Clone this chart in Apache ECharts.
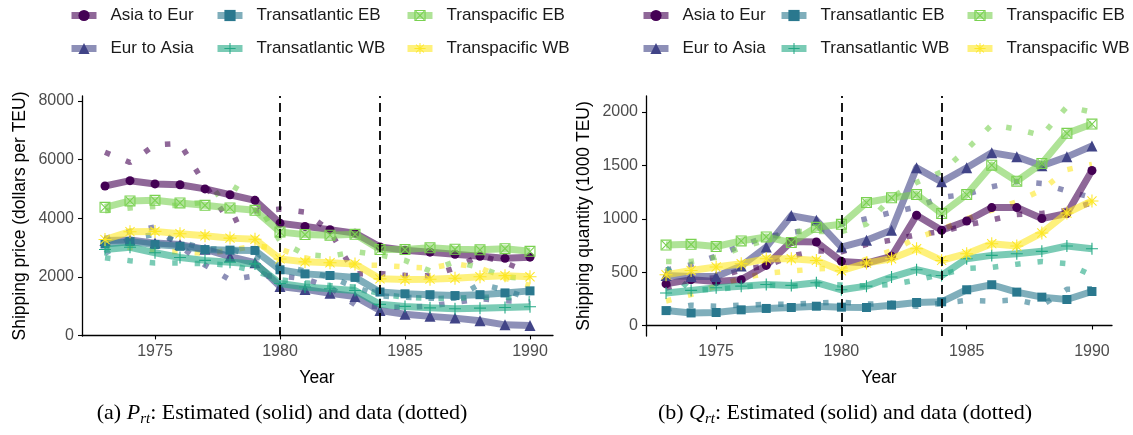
<!DOCTYPE html>
<html>
<head>
<meta charset="utf-8">
<script src="https://cdn.jsdelivr.net/npm/echarts@6/dist/echarts.min.js"></script>
<style>
html,body{margin:0;padding:0;background:#fff;}
#chart{width:1133px;height:435px;}
</style>
</head>
<body>
<div id="chart"></div>
<script>
// ---------- data ----------
const years = [1973,1974,1975,1976,1977,1978,1979,1980,1981,1982,1983,1984,1985,1986,1987,1988,1989,1990];
const routes = ['Asia to Eur','Eur to Asia','Transatlantic EB','Transatlantic WB','Transpacific EB','Transpacific WB'];
const breakYears = [1980, 1984];
const priceTicks = [0, 2000, 4000, 6000, 8000];
const qtyTicks = [0, 500, 1000, 1500, 2000];
const yearTicks = [1975, 1980, 1985, 1990];

// Panel (a): price, estimated (solid)
const pAsiaEur = [5100,5280,5170,5140,5000,4800,4610,3830,3720,3610,3490,3020,2910,2840,2770,2700,2630,2670];
const pEurAsia = [3240,3260,3150,3100,2940,2690,2480,1670,1570,1440,1330,850,720,650,590,500,360,340];
const pTAEB    = [3120,3200,3100,3040,2930,2910,2900,2240,2100,2045,1980,1480,1420,1390,1360,1390,1450,1520];
const pTAWB    = [2930,3010,2820,2660,2560,2500,2440,1770,1650,1590,1530,1060,990,940,910,930,950,980];
const pTPEB    = [4370,4590,4610,4520,4440,4350,4270,3530,3440,3420,3450,2930,2930,2990,2940,2920,2960,2870];
const pTPWB    = [3270,3540,3550,3470,3400,3320,3280,2610,2510,2480,2440,1930,1910,1920,1950,2000,2040,2000];
// Panel (a): price, data (dotted)
const dpAsiaEur = [6250,5900,6500,6550,5150,3850,4250,4310,4210,3560,2100,2110,2050,2030,2300,2720,2480,2150];
const dpEurAsia = [3300,3550,3700,3050,2400,1900,2030,2030,1930,1650,1050,970,960,1000,1120,1250,1180,1150];
const dpTAEB    = [2800,3300,3450,3200,2950,2950,2700,2380,2200,1990,1650,1350,1300,1270,1270,1750,1550,1250];
const dpTAWB    = [2650,2550,2470,2470,2450,2400,2200,1900,1800,1700,1650,1420,1300,1260,1270,1300,1300,1250];
const dpTPEB    = [4250,4350,4400,4450,4550,5150,4650,3220,2760,2700,2860,2750,2560,2200,2520,2310,2000,1930];
const dpTPWB    = [3080,3000,2900,2850,2800,2900,3060,2950,2650,2450,2400,2390,2340,2300,2450,2300,1950,1700];

// Panel (b): quantity, estimated (solid)
const qAsiaEur = [390,430,413,430,563,786,782,601,585,648,1033,892,979,1105,1105,1002,1049,1452];
const qEurAsia = [469,460,460,557,735,1030,986,735,798,892,1477,1346,1477,1618,1580,1496,1580,1681];
const qTAEB    = [140,118,122,147,160,169,181,172,169,191,216,222,335,382,313,266,244,319];
const qTAWB    = [304,329,354,369,385,376,401,335,369,454,523,469,626,657,673,695,745,720];
const qTPEB    = [754,761,740,793,830,777,920,948,1152,1196,1227,1049,1227,1502,1352,1518,1800,1887];
const qTPWB    = [476,516,548,579,626,626,610,513,585,626,720,610,673,767,745,867,1054,1167];
// Panel (b): quantity, data (dotted)
const dqAsiaEur = [350,420,450,520,560,650,700,690,760,800,850,880,940,990,1040,1050,1080,1150];
const dqEurAsia = [520,570,650,750,830,870,910,950,1000,1060,1110,1200,1230,1300,1350,1330,1260,1200];
const dqTAEB    = [150,190,180,190,200,200,210,220,200,210,180,210,235,228,240,190,340,345];
const dqTAWB    = [540,330,340,360,380,370,390,380,370,385,425,480,535,545,575,600,580,470];
const dqTPEB    = [600,600,640,730,800,880,880,880,950,1200,1340,1440,1650,1880,1840,1780,2050,2000];
const dqTPWB    = [230,290,370,440,490,510,530,540,620,700,820,900,1000,1080,1160,1270,1460,1510];

const priceEst  = [pAsiaEur,pEurAsia,pTAEB,pTAWB,pTPEB,pTPWB];
const priceData = [dpAsiaEur,dpEurAsia,dpTAEB,dpTAWB,dpTPEB,dpTPWB];
const qtyEst    = [qAsiaEur,qEurAsia,qTAEB,qTAWB,qTPEB,qTPWB];
const qtyData   = [dqAsiaEur,dqEurAsia,dqTAEB,dqTAWB,dqTPEB,dqTPWB];

// ---------- styles ----------
const colors = ['#440154','#414487','#2A788E','#22A884','#7AD151','#FDE725'];
const SQX = 'path://M0,0H20V20H0Z M2,2V18H18V2Z M2,3.4L3.4,2L18,16.6L16.6,18Z M16.6,2L18,3.4L3.4,18L2,16.6Z';
const PLUS = 'path://M9.1,0H10.9V9.1H20V10.9H10.9V20H9.1V10.9H0V9.1H9.1Z';
const AST = 'path://M0,9.2H20V10.8H0Z M9.2,0H10.8V20H9.2Z M3.5,2.4L17.6,16.5L16.5,17.6L2.4,3.5Z M16.5,2.4L17.6,3.5L3.5,17.6L2.4,16.5Z';
const symbols = ['circle','triangle','rect',PLUS,SQX,AST];
const symSizes = [9,11,9,12,11,13];
const FONT = '"Liberation Sans", Arial, sans-serif';

function toPairs(vals){ return years.map((y,i)=>[y, vals[i]]); }

const series = [];
function addPanel(gi, est, dat){
  for(let i=0;i<6;i++){
    series.push({
      name: routes[i] + ' data ' + gi,
      type:'line', xAxisIndex:gi, yAxisIndex:gi,
      data: toPairs(dat[i]), symbol:'none', silent:true, z:2,
      lineStyle:{color:colors[i], width:5.5, opacity:0.6, type:[5.5,17], cap:'butt'},
      emphasis:{disabled:true}
    });
  }
  for(let i=0;i<6;i++){
    const s = {
      name: routes[i],
      type:'line', xAxisIndex:gi, yAxisIndex:gi,
      data: toPairs(est[i]), symbol:symbols[i], symbolSize:symSizes[i], showSymbol:true,
      z:3+i,
      lineStyle:{color:colors[i], width:7, opacity:0.6, cap:'butt', join:'round'},
      itemStyle:{color:colors[i], opacity:1, borderWidth:0},
      emphasis:{disabled:true}
    };
    if(i===5){
      s.markLine = {
        silent:true, symbol:['none','none'], label:{show:false},
        lineStyle:{color:'#000', type:[9,5], width:1.8, opacity:1},
        data: breakYears.map(y=>({xAxis:y})),
        z:20
      };
    }
    series.push(s);
  }
}
addPanel(0, priceEst, priceData);
addPanel(1, qtyEst, qtyData);

const plain = v => String(v);

function xAxisCfg(gi, min, max){
  return {
    type:'value', gridIndex:gi, min:min, max:max,
    axisLine:{show:true, lineStyle:{color:'#000', width:1.3}},
    axisTick:{show:true, length:4, lineStyle:{color:'#000', width:1.1}, customValues:yearTicks},
    axisLabel:{color:'#4d4d4d', fontSize:16, fontFamily:FONT, margin:8, customValues:yearTicks, formatter:plain},
    splitLine:{show:false}
  };
}
function yAxisCfg(gi, min, max, ticks){
  return {
    type:'value', gridIndex:gi, min:min, max:max,
    axisLine:{show:true, lineStyle:{color:'#000', width:1.3}},
    axisTick:{show:true, length:4, lineStyle:{color:'#000', width:1.1}, customValues:ticks},
    axisLabel:{color:'#4d4d4d', fontSize:16, fontFamily:FONT, margin:8, customValues:ticks, formatter:plain},
    splitLine:{show:false}
  };
}

function legendCol(left, names){
  return {
    left:left, top:7, orient:'vertical', padding:0, itemGap:16,
    itemWidth:25, itemHeight:14,
    data:names, selectedMode:false,
    lineStyle:{width:7},
    textStyle:{fontSize:17, fontFamily:FONT, color:'#1a1a1a', padding:[0,0,0,9]}
  };
}

const legends = [
  legendCol(68, [routes[0], routes[1]]),
  legendCol(214, [routes[2], routes[3]]),
  legendCol(404, [routes[4], routes[5]]),
  legendCol(640, [routes[0], routes[1]]),
  legendCol(778, [routes[2], routes[3]]),
  legendCol(964, [routes[4], routes[5]])
];

const SERIF = '"Liberation Serif", serif';
const capRich = {
  it:{fontFamily:SERIF, fontStyle:'italic', fontSize:22, fill:'#000', lineHeight:26, verticalAlign:'middle'},
  sub:{fontFamily:SERIF, fontStyle:'italic', fontSize:15, fill:'#000', lineHeight:15, padding:[12,0,0,0]}
};

const option = {
  animation:false,
  backgroundColor:'#fff',
  grid:[
    {left:82, top:96, width:471, height:240},
    {left:646, top:96, width:466, height:240}
  ],
  xAxis:[ xAxisCfg(0, 1972.08, 1990.92), xAxisCfg(1, 1972.2, 1990.8) ],
  yAxis:[ yAxisCfg(0, -20, 8170, priceTicks), yAxisCfg(1, -98, 2150, qtyTicks) ],
  legend: legends,
  series: series,
  graphic:[
    {type:'text', x:20, y:216, rotation:Math.PI/2,
      style:{text:'Shipping price (dollars per TEU)', font:'17.5px '+FONT, fill:'#000', align:'center', verticalAlign:'middle'}},
    {type:'text', x:584, y:216, rotation:Math.PI/2,
      style:{text:'Shipping quantity (1000 TEU)', font:'17.5px '+FONT, fill:'#000', align:'center', verticalAlign:'middle'}},
    {type:'text', x:317, y:378,
      style:{text:'Year', font:'17.5px '+FONT, fill:'#000', align:'center', verticalAlign:'middle'}},
    {type:'text', x:879, y:378,
      style:{text:'Year', font:'17.5px '+FONT, fill:'#000', align:'center', verticalAlign:'middle'}},
    {type:'text', x:282, y:413,
      style:{text:'(a) {it|P}{sub|rt}: Estimated (solid) and data (dotted)', font:'22px '+SERIF, fill:'#000',
        align:'center', verticalAlign:'middle', lineHeight:26, rich:capRich}},
    {type:'text', x:845, y:413,
      style:{text:'(b) {it|Q}{sub|rt}: Estimated (solid) and data (dotted)', font:'22px '+SERIF, fill:'#000',
        align:'center', verticalAlign:'middle', lineHeight:26, rich:capRich}}
  ]
};

const chart = echarts.init(document.getElementById('chart'), null, {renderer:'canvas'});
chart.setOption(option);
</script>
</body>
</html>
